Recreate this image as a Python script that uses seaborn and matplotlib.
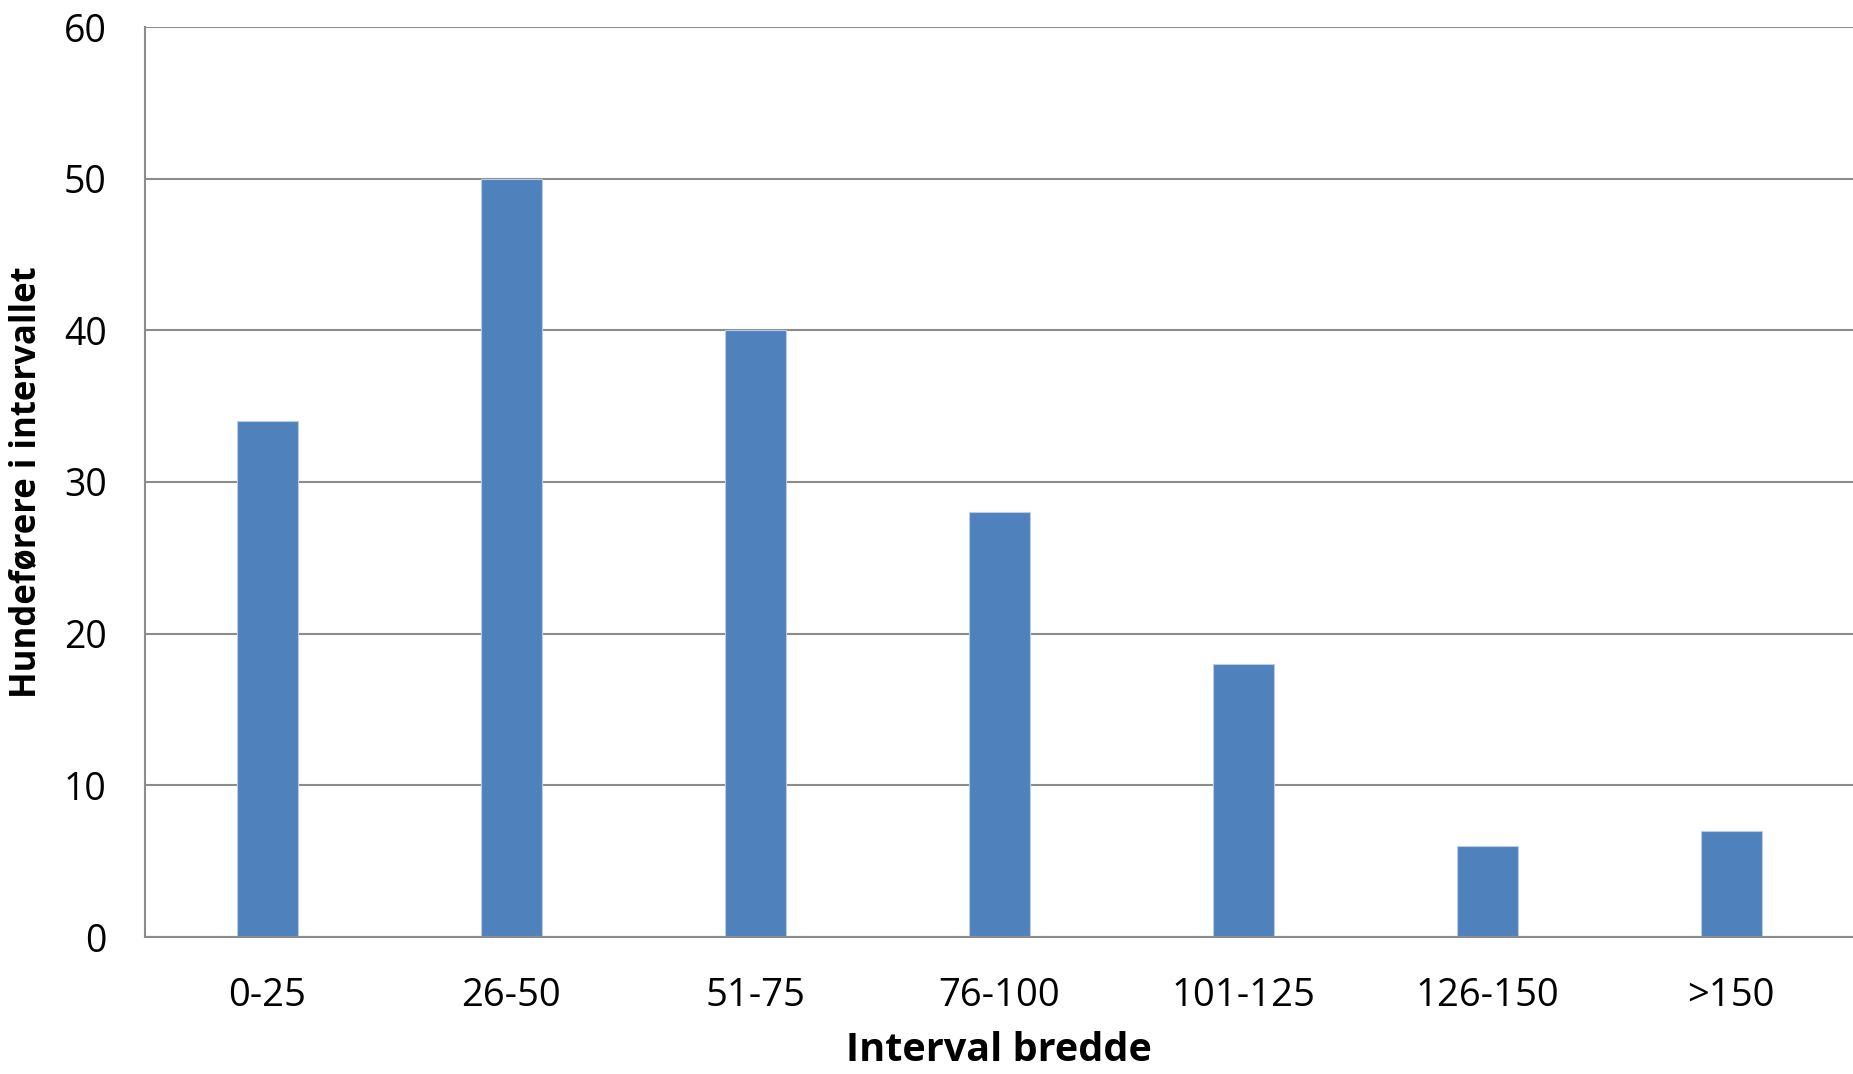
import pandas as pd
import seaborn as sns
import matplotlib.pyplot as plt

# Data
categories = ['0-25', '26-50', '51-75', '76-100', '101-125', '126-150', '>150']
counts = [34, 50, 40, 28, 18, 6, 7]
y_ticks = [0, 10, 20, 30, 40, 50, 60]

df = pd.DataFrame({'interval': categories, 'antal': counts})

sns.set_style('white')
plt.rcParams['font.family'] = ['Open Sans', 'DejaVu Sans']
plt.rcParams['text.color'] = 'black'
plt.rcParams['axes.labelcolor'] = 'black'
plt.rcParams['xtick.labelcolor'] = 'black'
plt.rcParams['ytick.labelcolor'] = 'black'

fig = plt.figure(figsize=(18.53, 10.74), dpi=100)
ax = fig.add_axes([145 / 1853, 1 - 937 / 1074, 1 - 145 / 1853, (937 - 27) / 1074])

grid_col = '#8c8c8c'
sns.barplot(data=df, x='interval', y='antal', color='#4f81bd', width=0.25,
            saturation=1, edgecolor='#b9cde5', linewidth=0.8, ax=ax, zorder=3)

ax.set_ylim(0, 60)
ax.set_yticks(y_ticks)
ax.yaxis.grid(True, color=grid_col, linewidth=1.5)
ax.set_axisbelow(True)

for side in ['top', 'right']:
    ax.spines[side].set_visible(False)
for side in ['left', 'bottom']:
    ax.spines[side].set_color(grid_col)
    ax.spines[side].set_linewidth(1.5)
ax.spines['bottom'].set_zorder(4)

ax.tick_params(axis='y', length=9.5, width=1.5, color=grid_col, pad=18, labelsize=27)
ax.tick_params(axis='x', length=0, pad=29, labelsize=27.5)

ax.set_xlabel('Interval bredde', fontsize=28.5, fontweight='bold', labelpad=11)
ax.set_ylabel('Hundeførere i intervallet', fontsize=25, fontweight='bold', labelpad=14)

fig.savefig('out.png', dpi=100)
